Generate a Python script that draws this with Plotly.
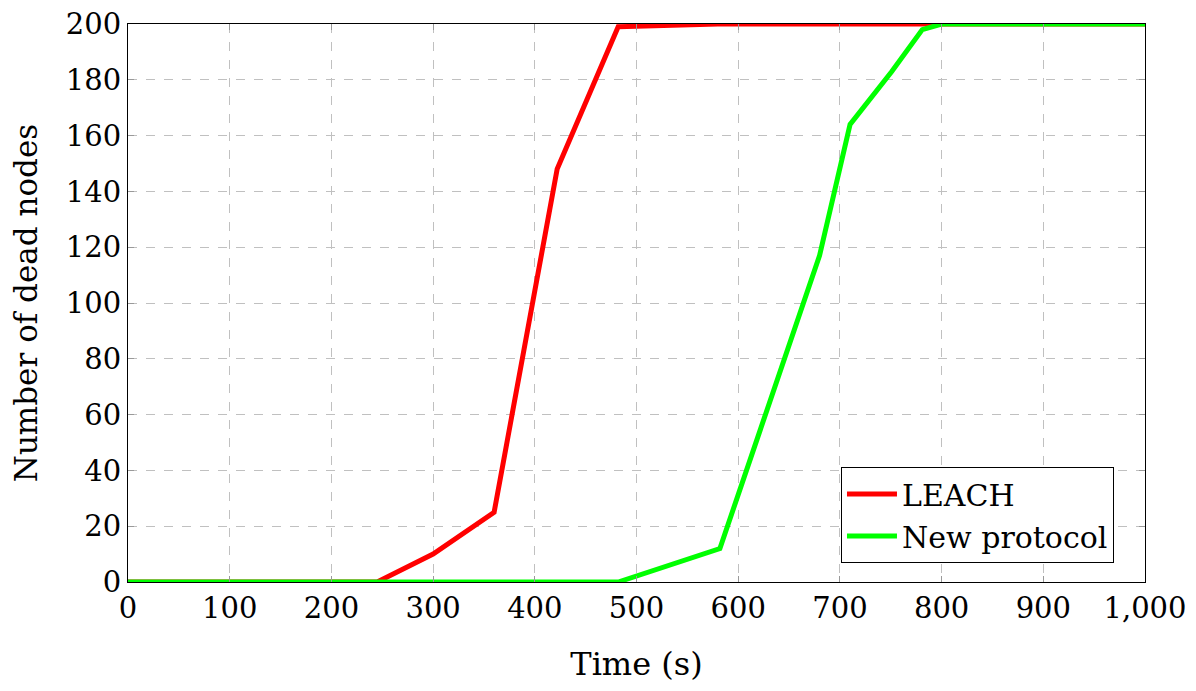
import plotly.graph_objects as go

leach_x = [0, 245, 300, 360, 422, 482, 580, 1000]
leach_y = [0, 0, 10, 25, 148, 199, 200, 200]
new_x = [0, 482, 582, 680, 710, 730, 751, 781, 800, 1000]
new_y = [0, 0, 12, 117, 164, 173, 183, 198, 200, 200]
x_ticks = list(range(0, 1001, 100))
y_ticks = list(range(0, 201, 20))

FONT = "DejaVu Serif"

fig = go.Figure()
fig.add_trace(go.Scatter(x=leach_x, y=leach_y, mode="lines", name="LEACH",
                         line=dict(color="#ff0000", width=5)))
fig.add_trace(go.Scatter(x=new_x, y=new_y, mode="lines", name="New protocol",
                         line=dict(color="#00ff00", width=5)))

axis_common = dict(
    showline=True, linecolor="black", linewidth=1.2, mirror="ticks",
    ticks="inside", ticklen=6, tickcolor="#999999", tickwidth=1,
    showgrid=True, gridcolor="#c0c0c0", griddash="dash", gridwidth=1,
    zeroline=False, automargin=False, ticklabeloverflow="allow",
    tickfont=dict(family=FONT, size=29, color="black"),
)

fig.update_xaxes(range=[0, 1000], tickvals=x_ticks, tickformat=",",
                 title=dict(text="Time (s)", font=dict(family=FONT, size=32, color="black"), standoff=28),
                 **axis_common)
fig.update_yaxes(range=[0, 200], tickvals=y_ticks,
                 title=dict(text="Number of dead nodes", font=dict(family=FONT, size=31, color="black"), standoff=20),
                 **axis_common)

fig.update_layout(
    width=1196, height=691,
    margin=dict(l=120, r=59, t=16, b=117, autoexpand=False),
    plot_bgcolor="white", paper_bgcolor="white",
    font=dict(family=FONT, size=30, color="black"),
    legend=dict(x=0.9695, y=0.034, xanchor="right", yanchor="bottom",
                bgcolor="white", bordercolor="black", borderwidth=1,
                font=dict(family=FONT, size=30, color="black"),
                itemwidth=50, tracegroupgap=0),
    showlegend=True,
)

fig.write_html("out.html")
